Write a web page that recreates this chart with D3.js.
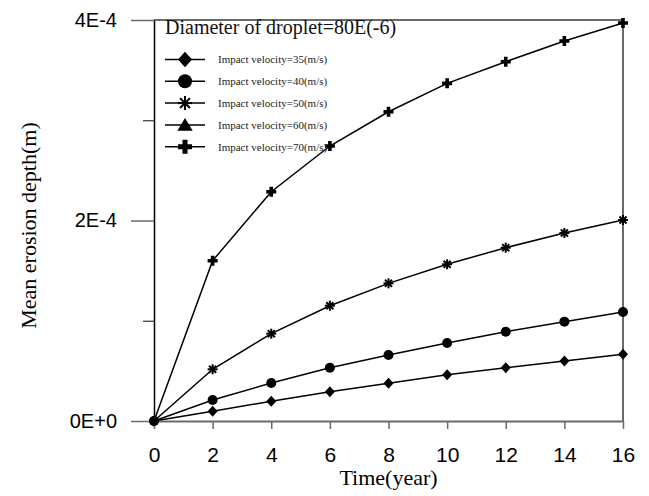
<!DOCTYPE html>
<html>
<head>
<meta charset="utf-8">
<script src="https://cdn.jsdelivr.net/npm/d3@7"></script>
<style>
  html, body { margin: 0; padding: 0; background: #fff; }
  svg { display: block; }
</style>
</head>
<body>
<svg id="chart" width="649" height="496"></svg>
<script>
// Erosion depth over time for several impact velocities
const years = [0, 2, 4, 6, 8, 10, 12, 14, 16];
const v35 = [0, 9.7e-6, 19.7e-6, 29.2e-6, 37.6e-6, 46.2e-6, 53.2e-6, 59.9e-6, 66.5e-6];
const v40 = [0, 20.9e-6, 37.9e-6, 53.2e-6, 65.8e-6, 77.8e-6, 89.1e-6, 99.1e-6, 108.7e-6];
const v50 = [0, 51.6e-6, 87.1e-6, 115.0e-6, 137.3e-6, 156.3e-6, 172.9e-6, 187.5e-6, 200.5e-6];
const v60 = [];
const v70 = [0, 159.9e-6, 228.7e-6, 274.3e-6, 308.5e-6, 336.8e-6, 358.4e-6, 379.1e-6, 397.0e-6];

const seriesNames = [
  "Impact velocity=35(m/s)",
  "Impact velocity=40(m/s)",
  "Impact velocity=50(m/s)",
  "Impact velocity=60(m/s)",
  "Impact velocity=70(m/s)"
];
const seriesValues = [v35, v40, v50, v60, v70];
const seriesMarkers = ["diamond", "circle", "star", "triangle", "plus"];

const xTicks = [0, 2, 4, 6, 8, 10, 12, 14, 16];
const yMajorTicks = [0, 2e-4, 4e-4];
const yMajorLabels = ["0E+0", "2E-4", "4E-4"];
const yMinorTicks = [1e-4, 3e-4];

const legendTitle = "Diameter of droplet=80E(-6)";
const xTitle = "Time(year)";
const yTitle = "Mean erosion depth(m)";

const svg = d3.select("#chart");
const plotLeft = 154, plotRight = 623, plotTop = 20, plotBottom = 421;

const x = d3.scaleLinear().domain([0, 16]).range([plotLeft, plotRight]);
const y = d3.scaleLinear().domain([0, 4e-4]).range([plotBottom, plotTop]);

const axisGrey = "#6a6a6a";
const sans = "'Liberation Sans', Arial, sans-serif";
const serif = "'Liberation Serif', 'Times New Roman', serif";

// Frame: top and right borders
svg.append("line").attr("x1", plotLeft).attr("x2", plotRight).attr("y1", plotTop).attr("y2", plotTop)
  .attr("stroke", axisGrey).attr("stroke-width", 2);
svg.append("line").attr("x1", plotRight).attr("x2", plotRight).attr("y1", plotTop).attr("y2", plotBottom)
  .attr("stroke", axisGrey).attr("stroke-width", 2);

// Bottom axis
const gx = svg.append("g").attr("transform", `translate(0,${plotBottom})`)
  .call(d3.axisBottom(x).tickValues(xTicks).tickFormat(d3.format("d")).tickSize(8).tickSizeOuter(0));
gx.select(".domain").attr("stroke", axisGrey).attr("stroke-width", 2);
gx.selectAll(".tick line").attr("stroke", axisGrey).attr("stroke-width", 1.5);
gx.selectAll(".tick text").attr("font-family", sans).attr("font-size", 21).attr("fill", "#000")
  .attr("dy", null).attr("y", 41);

// Left axis: major ticks with labels
const gy = svg.append("g").attr("transform", `translate(${plotLeft},0)`)
  .call(d3.axisLeft(y).tickValues(yMajorTicks)
    .tickFormat((d, i) => yMajorLabels[i]).tickSize(23).tickSizeOuter(0));
gy.select(".domain").attr("stroke", "#000").attr("stroke-width", 1.5);
gy.selectAll(".tick line").attr("stroke", axisGrey).attr("stroke-width", 1.5);
gy.selectAll(".tick text").attr("font-family", sans).attr("font-size", 20).attr("fill", "#000")
  .attr("x", -37);

// Left axis: minor ticks
const gyMinor = svg.append("g").attr("transform", `translate(${plotLeft},0)`)
  .call(d3.axisLeft(y).tickValues(yMinorTicks).tickFormat("").tickSize(11).tickSizeOuter(0));
gyMinor.select(".domain").remove();
gyMinor.selectAll(".tick line").attr("stroke", "#333").attr("stroke-width", 1.2);

// Axis titles
svg.append("text").attr("x", (plotLeft + plotRight) / 2).attr("y", 485)
  .attr("text-anchor", "middle").attr("font-family", serif).attr("font-size", 22)
  .attr("fill", "#000").text(xTitle);
svg.append("text").attr("transform", `translate(36,${(plotTop + plotBottom) / 2 + 5}) rotate(-90)`)
  .attr("text-anchor", "middle").attr("font-family", serif).attr("font-size", 22)
  .attr("fill", "#000").text(yTitle);

// Marker drawing
function drawMarker(g, type, cx, cy, s) {
  if (type === "diamond") {
    g.append("path")
      .attr("d", `M${cx},${cy - s * 0.55}L${cx + s * 0.5},${cy}L${cx},${cy + s * 0.55}L${cx - s * 0.5},${cy}Z`)
      .attr("fill", "#000");
  } else if (type === "circle") {
    g.append("circle").attr("cx", cx).attr("cy", cy).attr("r", s * 0.5).attr("fill", "#000");
  } else if (type === "triangle") {
    g.append("path")
      .attr("d", `M${cx},${cy - s * 0.5}L${cx + s * 0.55},${cy + s * 0.42}L${cx - s * 0.55},${cy + s * 0.42}Z`)
      .attr("fill", "#000");
  } else if (type === "plus") {
    const a = s * 0.5, t = s * 0.18;
    g.append("path")
      .attr("d", `M${cx - t},${cy - a}H${cx + t}V${cy - t}H${cx + a}V${cy + t}H${cx + t}V${cy + a}H${cx - t}V${cy + t}H${cx - a}V${cy - t}H${cx - t}Z`)
      .attr("fill", "#000");
  } else if (type === "star") {
    const r = s * 0.5;
    for (let k = 0; k < 4; k++) {
      const ang = k * Math.PI / 4;
      g.append("line")
        .attr("x1", cx - r * Math.cos(ang)).attr("y1", cy - r * Math.sin(ang))
        .attr("x2", cx + r * Math.cos(ang)).attr("y2", cy + r * Math.sin(ang))
        .attr("stroke", "#000").attr("stroke-width", 2);
    }
  }
}

// Series lines and markers
const line = d3.line().x((d, i) => x(years[i])).y(d => y(d));
const plot = svg.append("g");
seriesValues.forEach((vals) => {
  if (!vals.length) return;
  plot.append("path").datum(vals).attr("d", line)
    .attr("fill", "none").attr("stroke", "#000").attr("stroke-width", 1.5);
});
seriesValues.forEach((vals, si) => {
  vals.forEach((v, i) => drawMarker(plot, seriesMarkers[si], x(years[i]), y(v), 10));
});

// Legend
const lg = svg.append("g");
lg.append("text").attr("x", 165).attr("y", 34).attr("font-family", serif).attr("font-size", 20)
  .attr("fill", "#111").text(legendTitle);
seriesNames.forEach((name, i) => {
  const ly = 59.5 + i * 21.8;
  lg.append("line").attr("x1", 165).attr("x2", 205).attr("y1", ly).attr("y2", ly)
    .attr("stroke", "#000").attr("stroke-width", 1.5);
  drawMarker(lg, seriesMarkers[i], 185, ly, 14);
  lg.append("text").attr("x", 218).attr("y", ly + 3.8).attr("font-family", serif).attr("font-size", 11)
    .attr("fill", "#222").text(name);
});
</script>
</body>
</html>
